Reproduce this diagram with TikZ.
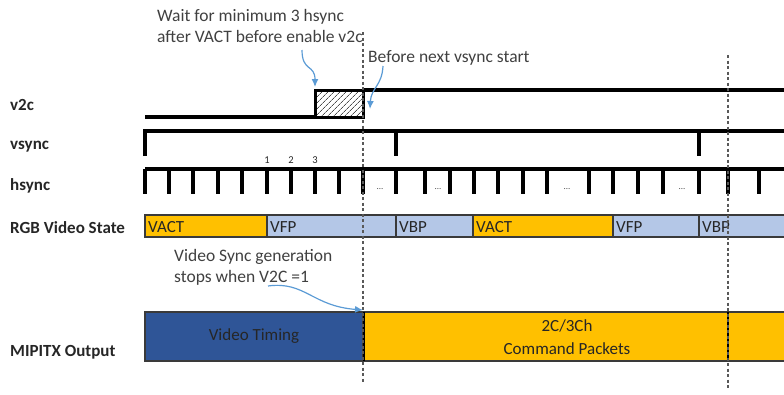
\documentclass[tikz,border=0pt]{standalone}
\usepackage{fontspec}
\setmainfont{Carlito}
\usepackage{tikz}
\usetikzlibrary{arrows.meta,patterns.meta}
\definecolor{amber}{HTML}{FFC000}
\definecolor{paleblue}{HTML}{B4C7E7}
\definecolor{navy}{HTML}{2F5597}
\definecolor{notegray}{HTML}{404040}
\definecolor{arrowblue}{HTML}{5B9BD5}
\definecolor{bardark}{HTML}{3A3A3A}
\begin{document}
\begin{tikzpicture}[x=1pt,y=-1pt,font=\fontsize{17}{21}\selectfont,
  sig/.style={line width=3.2pt,black},
  rowlabel/.style={anchor=west,inner sep=0pt,font=\fontsize{17}{21}\selectfont\bfseries,text=black!85},
  note/.style={anchor=west,inner sep=0pt,align=left,text=notegray,font=\fontsize{17.5}{21}\selectfont},
  notearrow/.style={-{Latex[length=8pt,width=7pt]},arrowblue,line width=1.2pt},
  marker/.style={dash pattern=on 3pt off 2.5pt,line width=1.1pt,black!65}]
  \useasboundingbox (0,0) rectangle (784,394);
  % row names
  \node[rowlabel] (lv2c) at (10,105) {v2c};
  \node[rowlabel] (lvsync) at (10,147) {vsync};
  \node[rowlabel] (lhsync) at (10,186) {hsync};
  \node[rowlabel] (lrgb) at (10,228) {RGB Video State};
  \node[rowlabel] (lmipi) at (10,352) {MIPITX Output};
  % v2c
  \draw[sig] (145,117) -- (315,117);
  \node[draw,line width=3pt,pattern={Lines[angle=45,distance=4pt,line width=0.7pt]},pattern color=black!70,
    minimum width=48pt,minimum height=27pt,inner sep=0pt] (hold) at (339,103.5) {};
  \draw[sig] (363,90) -- (784,90);
  % vsync
  \draw[sig] (145,156) -- (145,131) -- (784,131);
  \foreach \x in {396,699} \draw[sig] (\x,131) -- (\x,156);
  % hsync
  \draw[sig] (145,169) -- (784,169);
  \foreach \x in {145,169,193,218,242,267,291,315,339,363,396,425,450,474,498,523,547,589,613,638,663,699,728,759}
    \draw[sig] (\x,169) -- (\x,194);
  \foreach \x/\n in {380/d1,438/d2,567/d3,682/d4}
    \node[inner sep=0pt,font=\fontsize{9}{9}\selectfont,text=black!70] (\n) at (\x,189) {...};
  \foreach \x/\n in {267/1,291/2,315/3}
    \node[inner sep=0pt,font=\fontsize{10.5}{10}\selectfont,text=black!85] (cnt\n) at (\x,160) {\n};
  % RGB video state
  \foreach \xa/\xb/\col/\lab/\nm in {145/267/amber/VACT/sact,267/396/paleblue/VFP/sfp,396/473/paleblue/VBP/sbp,
      473/613/amber/VACT/sactb,613/699/paleblue/VFP/sfpb,699/790/paleblue/VBP/sbpb}{
    \filldraw[fill=\col,draw=bardark,line width=1.4pt] (\xa,215) rectangle (\xb,237);
    \node[anchor=west,inner sep=0pt,text=black!85] (\nm) at (\xa+3,227) {\lab};}
  % MIPITX output
  \node[draw=bardark,fill=navy,line width=1.4pt,minimum width=218pt,minimum height=49pt,inner sep=0pt,
    text=black!85] (timing) at (254,336.5) {Video Timing};
  \fill[amber] (364,312) rectangle (784,361);
  \draw[bardark,line width=1.4pt] (364,312) -- (784,312) (364,361) -- (784,361);
  \draw[black,line width=1.1pt] (728,312) -- (728,361);
  \draw[black,line width=2.8pt] (364,312) -- (364,361);
  \node[align=center,inner sep=0pt,text=black!85,font=\fontsize{17}{23}\selectfont] (cmd) at (567,337.5) {2C/3Ch\\Command Packets};
  % markers
  \draw[marker] (363,32) -- (363,382);
  \draw[marker] (728,55) -- (728,390);
  % notes
  \node[note] (waitnote) at (157,26) {Wait for minimum 3 hsync\\after VACT before enable v2c};
  \node[note] (beforenote) at (368,58) {Before next vsync start};
  \node[note] (stopnote) at (174,267) {Video Sync generation\\stops when V2C =1};
  \coordinate (waitfrom) at (302,50);
  \coordinate (waitto) at (315,87);
  \coordinate (beforefrom) at (383,66);
  \coordinate (beforeto) at (370,109);
  \coordinate (stopfrom) at (268,286);
  \coordinate (stopto) at (363,310);
  \draw[notearrow] (waitfrom) .. controls (302,72) and (315,64) .. (waitto);
  \draw[notearrow] (beforefrom) .. controls (382,86) and (371,88) .. (beforeto);
  \draw[notearrow] (stopfrom) .. controls (305,281) and (312,306) .. (stopto);
\end{tikzpicture}
\end{document}
